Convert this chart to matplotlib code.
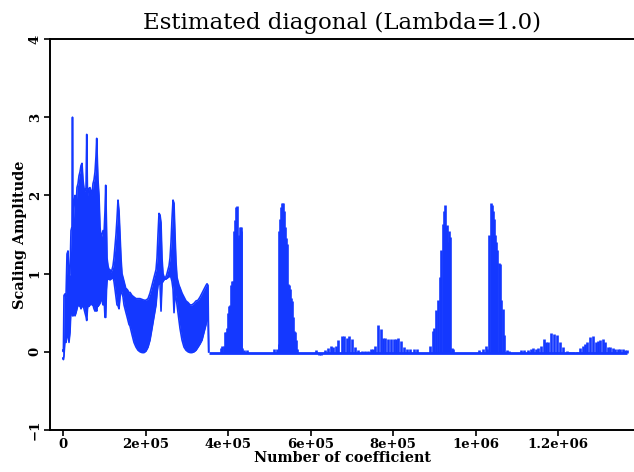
import numpy as np
import matplotlib
matplotlib.use("Agg")
import matplotlib.pyplot as plt

# dense part of the signal (coefficient index in thousands), upper / lower envelope
dense_k = [0, 1, 2.4, 4.8, 7.3, 9.7, 12.1, 14.5, 17.0, 19.4, 21.8, 23.0, 24.2, 26.7, 29.1,
           31.5, 33.9, 36.4, 38.8, 41.2, 43.6, 46.1, 48.5, 50.9, 53.3, 55.8, 57.5, 59.4,
           60.6, 63.0, 65.5, 67.9, 70.3, 72.7, 75.2, 77.6, 80.0, 81.7, 83.6, 84.8, 87.3,
           89.7, 92.1, 94.5, 97.0, 99.4, 101.8, 103.5, 105.5, 106.7, 109.1, 111.5, 113.9,
           116.4, 118.8, 121.2, 123.6, 126.1, 128.5, 130.9, 133.3, 135.8, 138.2, 140.6,
           143.0, 145.5, 147.9, 150.3, 152.7, 155.2, 157.6, 160.0, 162.4, 167.3, 172.1,
           177.0, 181.8, 186.7, 191.5, 196.4, 201.2, 206.1, 210.9, 215.8, 220.6, 225.5,
           227.9, 230.3, 232.7, 235.2, 237.6, 240.0, 242.4, 244.8, 247.3, 249.7, 252.1,
           254.5, 257.0, 259.4, 261.8, 264.2, 266.7, 269.1, 271.5, 273.9, 276.4, 278.8,
           281.2, 283.6, 288.5, 293.3, 298.2, 303.0, 307.9, 312.7, 317.6, 322.4, 327.3,
           332.1, 337.0, 341.8, 346.7, 349.1, 351.5, 353.2]
dense_hi = [0.02, 0.0, 0.72, 0.74, 0.70, 1.25, 1.29, 0.95, 1.0, 1.55, 1.6, 3.0, 1.5, 1.9, 2.0,
            1.8, 2.1, 2.15, 2.25, 2.3, 2.38, 2.41, 2.2, 2.09, 2.05, 2.1, 2.78, 2.0,
            2.05, 2.09, 2.1, 2.05, 2.0, 2.15, 2.2, 2.3, 2.5, 2.73, 2.4, 2.2, 2.0,
            1.6, 1.45, 1.5, 1.55, 1.5, 1.8, 2.13, 1.6, 1.2, 1.1, 1.05, 1.05,
            1.02, 1.05, 1.1, 1.2, 1.35, 1.5, 1.7, 1.94, 1.8, 1.5, 1.2,
            1.0, 0.95, 0.9, 0.85, 0.8, 0.8, 0.78, 0.75, 0.76, 0.72, 0.7,
            0.68, 0.68, 0.68, 0.67, 0.66, 0.66, 0.68, 0.75, 0.85, 0.95, 1.05,
            1.2, 1.5, 1.77, 1.75, 1.65, 1.2, 1.0, 0.96, 0.95, 0.96, 1.0,
            1.05, 1.1, 1.2, 1.4, 1.7, 1.94, 1.9, 1.5, 1.15, 0.95, 0.9,
            0.85, 0.82, 0.75, 0.7, 0.65, 0.63, 0.6, 0.6, 0.62, 0.65, 0.66,
            0.7, 0.75, 0.8, 0.85, 0.87, 0.85, 0.0]
dense_lo = [-0.08, -0.10, -0.05, 0.15, 0.12, 0.20, 0.25, 0.12, 0.25, 0.55, 0.9, 0.46, 0.46, 0.5, 0.46,
            0.5, 0.55, 0.6, 0.59, 0.59, 0.55, 0.58, 0.6, 0.55, 0.5, 0.45, 0.40, 0.55,
            0.6, 0.58, 0.6, 0.62, 0.6, 0.6, 0.55, 0.52, 0.55, 0.52, 0.6, 0.58, 0.6,
            0.62, 0.7, 0.65, 0.6, 0.7, 0.44, 0.44, 0.8, 0.9, 0.95, 0.93, 0.92,
            0.93, 0.95, 0.95, 0.9, 0.8, 0.7, 0.6, 0.59, 0.55, 0.7, 0.8,
            0.75, 0.7, 0.6, 0.55, 0.5, 0.45, 0.4, 0.35, 0.33, 0.22, 0.12,
            0.06, 0.02, 0.0, -0.01, -0.01, 0.01, 0.06, 0.15, 0.3, 0.45, 0.6,
            0.75, 0.85, 0.9, 0.85, 0.52, 0.88, 0.9, 0.92, 0.93, 0.93, 0.94,
            0.95, 0.96, 0.97, 0.95, 0.9, 0.8, 0.5, 0.75, 0.7, 0.6, 0.5,
            0.4, 0.3, 0.15, 0.06, 0.02, 0.0, -0.01, -0.01, 0.0, 0.02, 0.06,
            0.1, 0.15, 0.25, 0.35, 0.45, 0.5, 0.0]

# after ~3.5e5 the signal sits near zero with spikes
base_level = -0.01
tail_end_k = 1367.3
spike_k = [381.8, 385.5, 389.1, 391.5, 393.9, 396.4, 398.8, 401.2, 403.6, 406.1, 408.5, 410.9,
           413.3, 415.8, 418.2, 420.6, 423.0, 425.5, 427.9, 430.3, 432.2, 433.9, 438.8, 444.8,
           511.5, 517.6, 522.4, 524.4, 526.1, 528.5, 530.9, 533.3, 535.8, 538.2, 540.6, 543.0,
           545.5, 547.9, 550.3, 552.7, 555.2, 557.6, 560.0, 562.4, 564.8, 567.3,
           612.6, 619.4, 624.2, 635.2, 643.2, 649.7, 655.3, 661.1, 667.4, 675.6, 681.9, 687.8,
           693.3, 701.3, 707.9, 715.9, 724.1, 732.1, 740.1, 746.7, 750.8, 755.6, 762.9, 770.2,
           776.5, 781.3, 787.2, 794.4, 802.4, 806.5, 811.4, 818.7, 825.9, 833.2, 841.2, 851.6,
           857.5, 889.7, 896.2, 900.1, 904.9, 909.8, 913.9, 917.1, 920.5, 922.9, 925.3, 927.8,
           930.2, 933.3, 935.8, 938.9, 942.3, 946.2, 1009.2, 1018.9, 1024.7, 1028.6, 1032.7,
           1036.9, 1039.3, 1041.7, 1044.8, 1047.3, 1050.4, 1052.8, 1057.0, 1059.4, 1061.8,
           1066.0, 1069.8, 1075.6, 1082.0, 1110.3, 1118.3, 1126.6, 1133.8, 1140.1, 1145.9,
           1150.8, 1158.1, 1165.3, 1170.9, 1176.5, 1182.3, 1190.3, 1197.6, 1204.8, 1212.8,
           1221.1, 1229.1, 1237.1, 1245.3, 1253.3, 1259.9, 1265.5, 1271.0, 1277.6, 1284.1,
           1291.4, 1296.2, 1301.8, 1308.4, 1314.7, 1320.5, 1326.1, 1332.6, 1338.2, 1344.7,
           1350.3, 1356.8, 1362.4, 1366.5]
spike_h = [0.05, 0.08, 0.08, 0.25, 0.25, 0.3, 0.5, 0.59, 0.6, 0.85, 0.91, 0.9,
           1.55, 1.68, 1.85, 1.87, 1.46, 1.5, 1.59, 1.59, 1.55, 0.05, 0.02, 0.02,
           0.03, 0.03, 0.1, 1.55, 1.7, 1.85, 1.9, 1.9, 1.8, 1.6, 1.45, 1.38,
           0.87, 0.85, 0.8, 0.69, 0.65, 0.45, 0.27, 0.25, 0.15, 0.03,
           0.02, -0.04, -0.04, 0.02, 0.05, 0.07, 0.06, 0.07, 0.15, 0.2, 0.2, 0.18,
           0.2, 0.17, 0.06, 0.02, 0.01, 0.01, 0.01, 0.03, 0.04, 0.07, 0.34, 0.29,
           0.18, 0.18, 0.17, 0.17, 0.16, 0.16, 0.18, 0.14, 0.06, 0.04, 0.03, 0.03,
           0.03, 0.07, 0.27, 0.3, 0.53, 0.66, 0.96, 1.3, 1.64, 1.8, 1.88, 1.6,
           1.62, 1.4, 1.54, 1.47, 0.05, 0.03, 0.02, 0.03, 0.07, 0.04, 1.5,
           1.9, 1.88, 1.8, 1.7, 1.5, 1.4, 1.3, 1.14, 1.12, 0.66,
           0.55, 0.22, 0.02, 0.01, 0.02, 0.02, 0.02, 0.03, 0.05, 0.04,
           0.05, 0.08, 0.17, 0.13, 0.13, 0.24, 0.23, 0.21, 0.13, 0.06,
           0.01, 0.0, 0.0, 0.0, 0.05, 0.07, 0.1, 0.13, 0.19, 0.2,
           0.13, 0.14, 0.15, 0.17, 0.12, 0.06, 0.06, 0.05, 0.03, 0.03,
           0.03, 0.04, 0.02, 0.02]

x_ticks = [0, 200000, 400000, 600000, 800000, 1000000, 1200000]
x_tick_labels = ["0", "2e+05", "4e+05", "6e+05", "8e+05", "1e+06", "1.2e+06"]
y_ticks = [-1, 0, 1, 2, 3, 4]
y_tick_labels = ["\u22121", "0", "1", "2", "3", "4"]

blue = "#1438ff"

fig = plt.figure(figsize=(6.34, 4.72), dpi=100)
ax = fig.add_axes([50 / 634, 42 / 472, 1 - 50 / 634, 391 / 472])

dk = np.array(dense_k) * 1000
ax.fill_between(dk, dense_lo, dense_hi, color=blue, linewidth=0)
ax.plot(dk, dense_hi, color=blue, lw=1.2)
ax.plot(dk, dense_lo, color=blue, lw=1.2)

ax.plot([dense_k[-1] * 1000, tail_end_k * 1000], [base_level, base_level], color=blue, lw=2.0,
        solid_capstyle="butt")
ax.vlines(np.array(spike_k) * 1000, base_level, spike_h, color=blue, lw=1.9)

ax.set_xlim(-31500, 1384000)
ax.set_ylim(-1, 4)
ax.set_xticks(x_ticks)
ax.set_xticklabels(x_tick_labels)
ax.set_yticks(y_ticks)
ax.set_yticklabels(y_tick_labels, rotation=90, va="center")

for lab in ax.get_xticklabels() + ax.get_yticklabels():
    lab.set_family("DejaVu Serif")
    lab.set_fontweight("bold")
    lab.set_fontsize(9.5)

ax.tick_params(direction="out", length=4, width=1.2, colors="black", pad=2)
ax.spines["right"].set_visible(False)
for s in ["left", "top", "bottom"]:
    ax.spines[s].set_linewidth(1.4)

ax.set_xlabel("Number of coefficient", family="DejaVu Serif", fontweight="bold",
              fontsize=10.4, labelpad=0)
ax.set_ylabel("Scaling Amplitude", family="DejaVu Serif", fontweight="bold",
              fontsize=10.4, labelpad=1)
ax.set_title("Estimated diagonal (Lambda=1.0)", family="DejaVu Serif", fontsize=16.5, pad=7)

fig.savefig("out.png", dpi=100)
